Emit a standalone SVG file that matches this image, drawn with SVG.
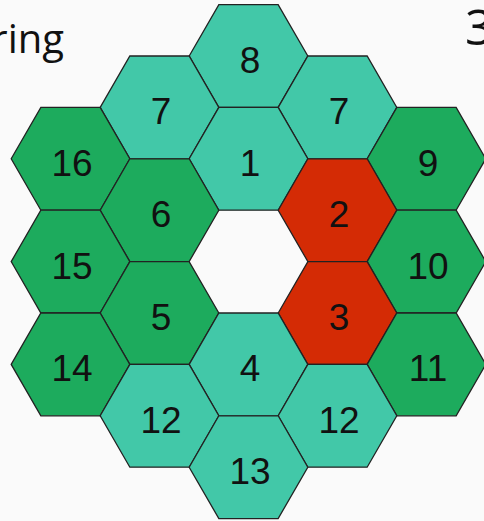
<svg xmlns="http://www.w3.org/2000/svg" xmlns:xlink="http://www.w3.org/1999/xlink" width="484" height="521" viewBox="0 0 484 521">
<style>
.hex{stroke:#222;stroke-width:1.3;stroke-linejoin:miter}
.teal{fill:#42c8a8}
.green{fill:#1dab5d}
.red{fill:#d42b05}
.lbl{font-family:"Liberation Sans",Arial,sans-serif;font-size:37px;fill:#111;text-anchor:middle}
.title{font-family:"Open Sans","Noto Sans",sans-serif;fill:#111}
</style>
<defs>
<polygon id="hex" points="-59.3,0 -29.65,-51.4 29.65,-51.4 59.3,0 29.65,51.4 -29.65,51.4"/>
</defs>
<rect width="484" height="521" fill="#fafafa"/>
<text class="title" x="64" y="53" font-size="40" text-anchor="end">ring</text>
<text class="title" x="465" y="45" font-size="49">3</text>
<g id="n8" transform="translate(248.5,56)"><use xlink:href="#hex" class="hex teal"/><text class="lbl" x="1.5" y="17">8</text></g>
<g id="n7a" transform="translate(159.5,107.4)"><use xlink:href="#hex" class="hex teal"/><text class="lbl" x="1.5" y="17">7</text></g>
<g id="n7b" transform="translate(337.5,107.4)"><use xlink:href="#hex" class="hex teal"/><text class="lbl" x="1.5" y="17">7</text></g>
<g id="n1" transform="translate(248.5,158.8)"><use xlink:href="#hex" class="hex teal"/><text class="lbl" x="1.5" y="17">1</text></g>
<g id="n16" transform="translate(70.5,158.8)"><use xlink:href="#hex" class="hex green"/><text class="lbl" x="1.5" y="17">16</text></g>
<g id="n9" transform="translate(426.5,158.8)"><use xlink:href="#hex" class="hex green"/><text class="lbl" x="1.5" y="17">9</text></g>
<g id="n6" transform="translate(159.5,210.2)"><use xlink:href="#hex" class="hex green"/><text class="lbl" x="1.5" y="17">6</text></g>
<g id="n2" transform="translate(337.5,210.2)"><use xlink:href="#hex" class="hex red"/><text class="lbl" x="1.5" y="17">2</text></g>
<g id="n15" transform="translate(70.5,261.6)"><use xlink:href="#hex" class="hex green"/><text class="lbl" x="1.5" y="17">15</text></g>
<g id="n10" transform="translate(426.5,261.6)"><use xlink:href="#hex" class="hex green"/><text class="lbl" x="1.5" y="17">10</text></g>
<g id="n5" transform="translate(159.5,313)"><use xlink:href="#hex" class="hex green"/><text class="lbl" x="1.5" y="17">5</text></g>
<g id="n3" transform="translate(337.5,313)"><use xlink:href="#hex" class="hex red"/><text class="lbl" x="1.5" y="17">3</text></g>
<g id="n4" transform="translate(248.5,364.4)"><use xlink:href="#hex" class="hex teal"/><text class="lbl" x="1.5" y="17">4</text></g>
<g id="n14" transform="translate(70.5,364.4)"><use xlink:href="#hex" class="hex green"/><text class="lbl" x="1.5" y="17">14</text></g>
<g id="n11" transform="translate(426.5,364.4)"><use xlink:href="#hex" class="hex green"/><text class="lbl" x="1.5" y="17">11</text></g>
<g id="n12a" transform="translate(159.5,415.8)"><use xlink:href="#hex" class="hex teal"/><text class="lbl" x="1.5" y="17">12</text></g>
<g id="n12b" transform="translate(337.5,415.8)"><use xlink:href="#hex" class="hex teal"/><text class="lbl" x="1.5" y="17">12</text></g>
<g id="n13" transform="translate(248.5,467.2)"><use xlink:href="#hex" class="hex teal"/><text class="lbl" x="1.5" y="17">13</text></g>
<g id="connectors"></g>
</svg>
